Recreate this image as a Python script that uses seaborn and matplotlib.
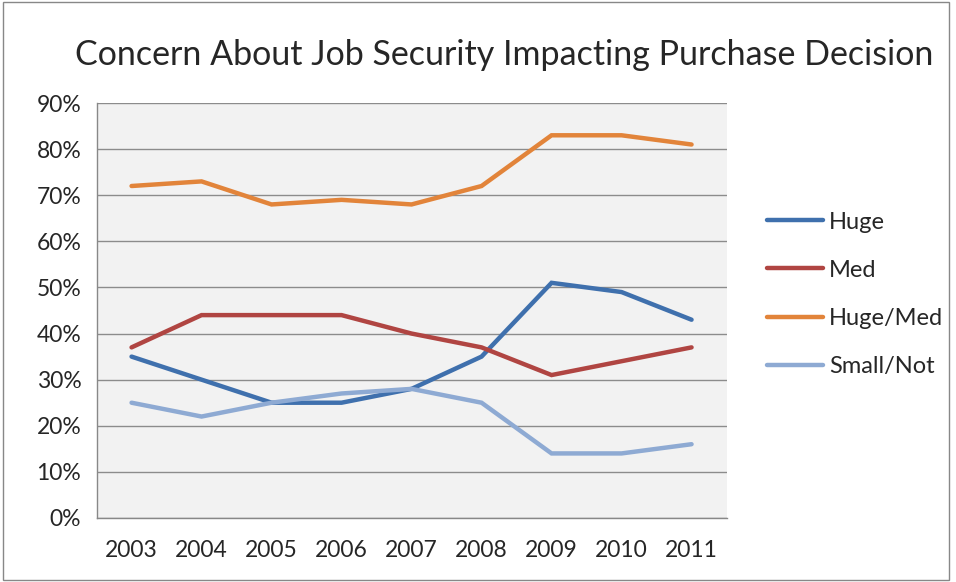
import pandas as pd
import seaborn as sns
import matplotlib.pyplot as plt
from matplotlib.patches import Rectangle

# data
years = ["2003", "2004", "2005", "2006", "2007", "2008", "2009", "2010", "2011"]
huge = [35, 30, 25, 25, 28, 35, 51, 49, 43]
med = [37, 44, 44, 44, 40, 37, 31, 34, 37]
huge_med = [72, 73, 68, 69, 68, 72, 83, 83, 81]
small_not = [25, 22, 25, 27, 28, 25, 14, 14, 16]

series_names = ["Huge", "Med", "Huge/Med", "Small/Not"]
colors = ["#3F70AD", "#B04542", "#E2843A", "#8EAAD3"]

df = pd.DataFrame({
    "year": years * 4,
    "pos": list(range(len(years))) * 4,
    "value": huge + med + huge_med + small_not,
    "series": [s for s in series_names for _ in years],
})

sns.set_style("white")
plt.rcParams["font.family"] = ["Lato", "DejaVu Sans"]

fig = plt.figure(figsize=(9.56, 5.82), dpi=100)
ax = fig.add_axes([0.101, 0.110, 0.659, 0.713])
ax.set_facecolor("#F2F2F2")

sns.lineplot(data=df, x="pos", y="value", hue="series", hue_order=series_names,
             palette=colors, linewidth=3.2, ax=ax, legend=True)
for ln in ax.lines:
    ln.set_solid_capstyle("round")
    ln.set_solid_joinstyle("miter")

ax.set_xlim(-0.5, len(years) - 0.5)
ax.set_ylim(0, 90)
ax.set_yticks(range(0, 91, 10))
ax.set_yticklabels([f"{v}%" for v in range(0, 91, 10)], fontsize=16.5)
ax.set_xticks(range(len(years)))
ax.set_xticklabels(years, fontsize=16.5)
ax.set_xticks([i - 0.5 for i in range(len(years) + 1)], minor=True)
ax.tick_params(axis="x", which="major", length=0, pad=16)
ax.tick_params(axis="x", which="minor", length=6, color="#888888", width=1)
ax.tick_params(axis="y", length=6, color="#888888", width=1, pad=5)
ax.yaxis.grid(True, color="#8C8C8C", linewidth=1)
ax.set_axisbelow(True)
ax.set_xlabel("")
ax.set_ylabel("")
for side in ["top", "right"]:
    ax.spines[side].set_visible(False)
for side in ["left", "bottom"]:
    ax.spines[side].set_color("#888888")
    ax.spines[side].set_linewidth(1)

leg = ax.legend(loc="center left", bbox_to_anchor=(1.03, 0.539), frameon=False,
                fontsize=17, handlelength=2.4, handletextpad=0.25, labelspacing=1.15)
for h in leg.get_lines():
    h.set_linewidth(3.2)

fig.text(0.527, 0.905, "Concern About Job Security Impacting Purchase Decision",
         fontsize=24.5, ha="center", va="center")

fig.patches.append(Rectangle((0.003, 0.003), 0.99, 0.994, transform=fig.transFigure,
                             fill=False, edgecolor="#888888", linewidth=1))

plt.savefig("out.png", dpi=100)
